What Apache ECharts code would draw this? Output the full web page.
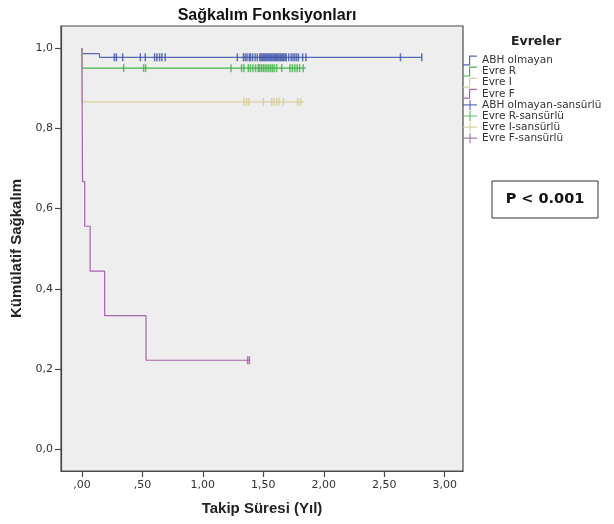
<!DOCTYPE html>
<html>
<head>
<meta charset="utf-8">
<script src="https://cdn.jsdelivr.net/npm/echarts@6/dist/echarts.min.js"></script>
<style>html,body{margin:0;padding:0;background:#fff}#c{width:614px;height:524px}</style>
</head>
<body>
<div id="c"></div>
<script>
// ---- data ----
var seriesNames = ['ABH olmayan', 'Evre R', 'Evre I', 'Evre F'];
var censorNames = ['ABH olmayan-sansürlü', 'Evre R-sansürlü', 'Evre I-sansürlü', 'Evre F-sansürlü'];
var xTickValues = [0, 0.5, 1, 1.5, 2, 2.5, 3];
var xTickLabels = [',00', ',50', '1,00', '1,50', '2,00', '2,50', '3,00'];
var yTickValues = [0, 0.2, 0.4, 0.6, 0.8, 1.0];
var yTickLabels = ['0,0', '0,2', '0,4', '0,6', '0,8', '1,0'];

// Kaplan-Meier step points: time / survival
var abhTimes = [0, 0, 0.145, 2.81];
var abhSurv  = [1, 0.986, 0.977, 0.977];
var rTimes = [0, 0, 1.852];
var rSurv  = [1, 0.95, 0.95];
var iTimes = [0, 0, 1.836];
var iSurv  = [1, 0.866, 0.866];
var fTimes = [0, 0.005, 0.023, 0.068, 0.188, 0.53, 1.385];
var fSurv  = [1, 0.667, 0.556, 0.444, 0.333, 0.222, 0.222];

// censored observation times
var abhCensor = [0.268, 0.285, 0.337, 0.483, 0.524, 0.601, 0.62, 0.642, 0.661, 0.689,
  1.285, 1.335, 1.35, 1.365, 1.384, 1.395, 1.412, 1.432, 1.45, 1.47,
  1.48, 1.49, 1.50, 1.51, 1.52, 1.53, 1.54, 1.55, 1.56, 1.57, 1.58, 1.59, 1.60,
  1.61, 1.62, 1.63, 1.64, 1.65, 1.66, 1.67, 1.68, 1.69, 1.71, 1.73,
  1.745, 1.76, 1.775, 1.79, 1.825, 1.852, 2.634, 2.81];
var rCensor = [0.345, 0.51, 0.527, 1.233, 1.32, 1.34, 1.376, 1.393, 1.414, 1.436, 1.458,
  1.47, 1.485, 1.50, 1.515, 1.53, 1.545, 1.56, 1.575, 1.59, 1.61, 1.652,
  1.72, 1.74, 1.76, 1.78, 1.80, 1.83];
var iCensor = [1.34, 1.362, 1.38, 1.5, 1.569, 1.588, 1.61, 1.63, 1.665, 1.784, 1.808];
var fCensor = [1.37, 1.385];

var colors = ['#5568b4', '#45b54a', '#d8d19c', '#a465aa'];
var censorColors = ['#3d52a8', '#3fb244', '#d3cb90', '#9a5aa0'];

// ---- build ----
function pairs(ts, ss){ return ts.map(function(t,i){ return [t, ss[i]]; }); }
function survAt(ts, ss, t){
  var v = ss[0];
  for (var i = 0; i < ts.length; i++) { if (ts[i] <= t) v = ss[i]; }
  return v;
}
var stepSets = [[abhTimes, abhSurv], [rTimes, rSurv], [iTimes, iSurv], [fTimes, fSurv]];
var censorSets = [abhCensor, rCensor, iCensor, fCensor];

var stepIcon = 'path://M0,9h6v-9h8v1.2h-6.8v9h-7.2z';
var plusIcon = 'path://M0,4.4h14v1.2h-14z M6.4,0h1.2v10h-1.2z';
var tickSym = 'path://M0,0h1v10h-1z';

var series = [];
stepSets.forEach(function(s, k){
  series.push({
    name: seriesNames[k], type: 'line', step: 'end', symbol: 'none',
    data: pairs(s[0], s[1]), color: colors[k],
    lineStyle: { width: 1.2, color: colors[k] }, z: 3 + (k === 3 ? 1 : 0)
  });
});
censorSets.forEach(function(c, k){
  series.push({
    name: censorNames[k], type: 'scatter', symbol: tickSym, symbolSize: [1.5, 8],
    data: c.map(function(t){ return [t, survAt(stepSets[k][0], stepSets[k][1], t)]; }),
    color: censorColors[k], itemStyle: { color: censorColors[k] }, z: 5
  });
});

var legendData = seriesNames.map(function(n){ return { name: n, icon: stepIcon }; })
  .concat(censorNames.map(function(n){ return { name: n, icon: plusIcon }; }));

var chart = echarts.init(document.getElementById('c'), null, { renderer: 'canvas' });
chart.setOption({
  animation: false,
  backgroundColor: '#ffffff',
  title: {
    text: 'Sağkalım Fonksiyonları', left: 262, textAlign: 'center', top: 3,
    textStyle: { fontFamily: 'Liberation Sans', fontWeight: 'bold', fontSize: 16, color: '#111' }
  },
  grid: { left: 61, right: 151, top: 26, bottom: 53, show: true,
    backgroundColor: '#eeeeee', borderColor: '#4a4a4a', borderWidth: 1.2 },
  legend: {
    orient: 'vertical', left: 463, top: 55, itemWidth: 14, itemHeight: 10, itemGap: 0.1,
    padding: 0, data: legendData,
    textStyle: { fontFamily: 'DejaVu Sans', fontSize: 10.5, lineHeight: 10, color: '#333' }
  },
  xAxis: {
    type: 'value', min: -0.173, max: 3.151,
    name: 'Takip Süresi (Yıl)', nameLocation: 'middle', nameGap: 30,
    nameTextStyle: { fontFamily: 'Liberation Sans', fontWeight: 'bold', fontSize: 15, color: '#222' },
    axisLine: { show: true, onZero: false, lineStyle: { color: '#4a4a4a', width: 1.2 } },
    axisTick: { show: true, length: 6, lineStyle: { color: '#4a4a4a', width: 1.2 }, customValues: xTickValues },
    axisLabel: { customValues: xTickValues, margin: 9, fontFamily: 'DejaVu Sans', fontSize: 11, color: '#333',
      formatter: function(v){ var i = xTickValues.indexOf(v); return i >= 0 ? xTickLabels[i] : ''; } },
    splitLine: { show: false }
  },
  yAxis: {
    type: 'value', min: -0.054, max: 1.055,
    name: 'Kümülatif Sağkalım', nameLocation: 'middle', nameGap: 33, nameRotate: 90,
    nameTextStyle: { fontFamily: 'Liberation Sans', fontWeight: 'bold', fontSize: 15, color: '#222' },
    axisLine: { show: true, onZero: false, lineStyle: { color: '#4a4a4a', width: 1.2 } },
    axisTick: { show: true, length: 6, lineStyle: { color: '#4a4a4a', width: 1.2 }, customValues: yTickValues },
    axisLabel: { customValues: yTickValues, margin: 8, fontFamily: 'DejaVu Sans', fontSize: 11, color: '#333',
      formatter: function(v){ for (var i = 0; i < yTickValues.length; i++) { if (Math.abs(yTickValues[i]-v) < 1e-9) return yTickLabels[i]; } return ''; } },
    splitLine: { show: false }
  },
  graphic: [
    { type: 'text', left: 511, top: 35, style: { text: 'Evreler', fontFamily: 'DejaVu Sans', fontWeight: 'bold', fontSize: 12.5, fill: '#222' } },
    { type: 'rect', shape: { x: 492, y: 181, width: 106, height: 37 }, style: { fill: '#fff', stroke: '#333', lineWidth: 1 } },
    { type: 'text', x: 545, y: 199.5, style: { text: 'P < 0.001', align: 'center', verticalAlign: 'middle', fontFamily: 'DejaVu Sans', fontWeight: 'bold', fontSize: 14.5, fill: '#111' } }
  ],
  series: series
});
</script>
</body>
</html>
